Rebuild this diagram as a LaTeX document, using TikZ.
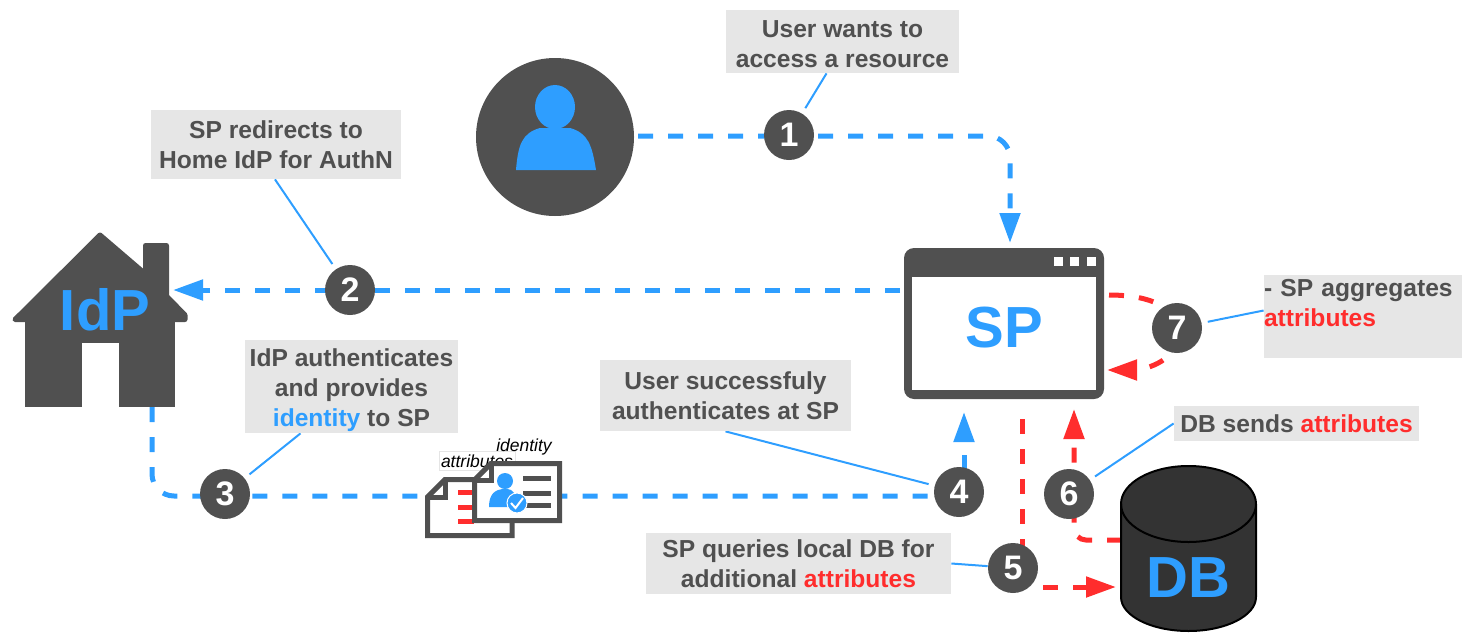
\documentclass[tikz,border=0pt]{standalone}
\usepackage{fontspec}
\setmainfont{Liberation Sans}
\usetikzlibrary{arrows.meta,backgrounds}

\definecolor{flowblue}{HTML}{2E9EFF}
\definecolor{flowred}{HTML}{FF2D2D}
\definecolor{darkgray}{HTML}{505050}
\definecolor{boxgray}{HTML}{E6E6E6}
\definecolor{dbgray}{HTML}{333333}

\newcommand{\attrs}{\textcolor{flowred}{attributes}}

\tikzset{
  flow/.style={line width=2.5pt, dash pattern=on 7.5pt off 7.5pt},
  blueflow/.style={flow, draw=flowblue},
  redflow/.style={flow, draw=flowred},
  tipped/.style={-{Triangle[length=15pt,width=10pt]}},
  callout/.style={draw=flowblue, line width=1pt, shorten >=3pt},
  stepnum/.style={circle, fill=darkgray, text=white, minimum size=25pt, inner sep=0pt,
    font=\fontsize{17}{18}\selectfont\bfseries},
  lbl/.style={fill=boxgray, text=darkgray, align=center, inner sep=0pt,
    font=\fontsize{12.3}{15}\selectfont\bfseries},
  biglbl/.style={text=flowblue, inner sep=0pt, font=\fontsize{29}{32}\selectfont\bfseries},
  smalllbl/.style={inner sep=0pt, font=\fontsize{8.75}{10}\selectfont\itshape},
}

\begin{document}
\begin{tikzpicture}[x=0.5pt, y=-0.5pt]

  \useasboundingbox (0, 0) rectangle (1462, 632);

  % Actors.
  \node [circle, fill=darkgray, minimum size=79pt, inner sep=0pt] (user) at (555, 137) {};
  \fill [flowblue] (555, 107) ellipse (20 and 22);
  \fill [flowblue] (516, 170) .. controls (518, 145) and (522, 133) .. (540, 128)
        -- (570, 128) .. controls (588, 133) and (592, 145) .. (596, 170) -- cycle;

  \node [fill=darkgray, rounded corners=5pt, minimum width=100pt, minimum height=75.5pt,
         inner sep=0pt] (sp) at (1004, 323.5) {};
  \node [fill=white, minimum width=92pt, minimum height=56.5pt, inner sep=0pt]
        (spscreen) at (1004, 333.5) {};
  \foreach \btnx in {1058, 1074.5, 1091}
    \fill [white] (\btnx-4.5, 257) rectangle (\btnx+4.5, 266);
  \node [biglbl] (splabel) at (1004, 327.5) {SP};

  % House.
  \filldraw [darkgray, line width=2.5pt, line join=round] (100, 235) -- (145.5, 274)
        -- (145.5, 245.5) -- (166.5, 245.5) -- (166.5, 296) -- (185, 315) -- (185, 319.5)
        -- (15, 319.5) -- cycle;
  \fill [darkgray] (25, 318) rectangle (175, 407);
  \fill [white] (82, 343) rectangle (119, 408);
  \node [biglbl] (idp) at (105, 309.5) {IdP};

  % Database.
  \fill [dbgray, draw=black, line width=1pt] (1121, 504) -- (1121, 597)
        arc [start angle=180, end angle=0, x radius=67.5, y radius=34]
        -- (1256, 504) arc [start angle=0, end angle=-180, x radius=67.5, y radius=38] -- cycle;
  \draw [black, line width=1pt] (1121, 504)
        arc [start angle=180, end angle=0, x radius=67.5, y radius=38];
  \node [biglbl] (db) at (1188, 578) {DB};

  % Free ends of the flows.
  \coordinate (userout) at (638, 136);
  \coordinate (bendone) at (1010, 136);
  \coordinate (sptop) at (1010, 243);
  \coordinate (spleft) at (900, 290);
  \coordinate (idpin) at (173, 290);
  \coordinate (idpout) at (152, 407);
  \coordinate (bendthree) at (152, 496);
  \coordinate (busend) at (959, 496);
  \coordinate (upstart) at (964, 470);
  \coordinate (spbottom) at (964, 412);
  \coordinate (spquery) at (1022, 419);
  \coordinate (queryend) at (1022, 560);
  \coordinate (querynext) at (1043, 587);
  \coordinate (dbin) at (1116, 587);
  \coordinate (dbout) at (1122, 540);
  \coordinate (bendsix) at (1074, 540);
  \coordinate (spreturn) at (1074, 409);
  \coordinate (selfout) at (1109, 295);
  \coordinate (selfmid) at (1178, 333);
  \coordinate (selfin) at (1107, 370);

  % Step numbers.
  \node [stepnum] (n1) at (789, 135) {1};
  \node [stepnum] (n2) at (350, 290) {2};
  \node [stepnum] (n3) at (225, 494) {3};
  \node [stepnum] (n4) at (959, 492) {4};
  \node [stepnum] (n5) at (1013, 568) {5};
  \node [stepnum] (n6) at (1069, 494) {6};
  \node [stepnum] (n7) at (1177, 328) {7};

  % Grey labels.
  \node [lbl, minimum width=116.5pt, minimum height=31.5pt] (lblone) at (842.5, 41.5)
        {\rule{0pt}{11pt}User wants to\\access a resource};
  \node [lbl, minimum width=125pt, minimum height=34.5pt] (lbltwo) at (276, 144.5)
        {SP redirects to\\Home IdP for AuthN};
  \node [lbl, minimum width=106.5pt, minimum height=46.5pt] (lblthree) at (351.5, 386.5)
        {\rule{0pt}{13pt}IdP authenticates\\and provides\\\textcolor{flowblue}{identity} to SP};
  \node [lbl, minimum width=125.5pt, minimum height=35.5pt] (lblfour) at (725.5, 395.5)
        {User successfuly\\authenticates at SP};
  \node [lbl, minimum width=152.5pt, minimum height=30.5pt] (lblfive) at (798.5, 563.5)
        {SP queries local DB for\\additional \attrs};
  \node [lbl, minimum width=122.5pt, minimum height=17.5pt] (lblsix) at (1296.5, 423.5)
        {DB sends \attrs};
  \node [lbl, text width=99pt, minimum height=41.5pt, align=left] (lblseven) at (1363, 316.5)
        {\rule{0pt}{10pt}- SP aggregates\\\attrs\\\mbox{}};

  % Documents handed over in step 3.
  \node [smalllbl, draw=black!10, line width=0.3pt, inner xsep=1pt, inner ysep=1.5pt]
        (attrlbl) at (477, 461) {attributes};
  \begin{scope}[darkgray, line width=2.5pt]
    \filldraw [fill=white] (445, 479.5) -- (512, 479.5) -- (512, 535.5) -- (427.5, 535.5)
          -- (427.5, 497) -- cycle;
    \draw (427.5, 497) -- (445, 497) -- (445, 479.5);
    \foreach \rowy in {492, 507, 521}
      \draw [flowred] (458, \rowy) -- (474, \rowy);
    \filldraw [fill=white] (491, 463.5) -- (559.5, 463.5) -- (559.5, 520.5) -- (474.5, 520.5)
          -- (474.5, 480) -- cycle;
    \draw (474.5, 480) -- (491, 480) -- (491, 463.5);
    \foreach \rowy in {478, 493, 505}
      \draw (523, \rowy) -- (551, \rowy);
  \end{scope}
  \fill [flowblue] (505, 481) circle [radius=8];
  \fill [flowblue] (489, 507) .. controls (489, 494) and (495, 489) .. (505, 489)
        .. controls (515, 489) and (516, 494) .. (517, 507) -- cycle;
  \filldraw [fill=flowblue, draw=white, line width=0.5pt] (517, 503) circle [radius=10];
  \draw [white, line width=1pt] (511, 503) -- (515.5, 508) -- (523, 498);
  \node [smalllbl] (identlbl) at (524, 447) {identity};

  \begin{scope}[on background layer]
    % Blue flows.
    \draw [blueflow, tipped, rounded corners=11pt] (userout) -- (bendone) -- (sptop);
    \draw [blueflow, tipped] (spleft) -- (idpin);
    \draw [blueflow, rounded corners=11pt] (idpout) -- (bendthree) -- (busend);
    \draw [blueflow, tipped] (upstart) -- (spbottom);

    % Red flows.
    \draw [redflow] (spquery) -- (queryend);
    \draw [redflow, tipped] (querynext) -- (dbin);
    \draw [redflow, tipped, rounded corners=6pt] (dbout) -- (bendsix) -- (spreturn);
    \draw [redflow, tipped] (selfout) to [out=0, in=90] (selfmid)
          to [out=-90, in=0] (selfin);

    % Lines from the labels to the numbers.
    \draw [callout] ([xshift=-8pt]lblone.south) -- (n1);
    \draw [callout] ([xshift=-0.5pt]lbltwo.south) -- (n2);
    \draw [callout] ([xshift=-25.5pt]lblthree.south) -- (n3);
    \draw [callout] (lblfour.south) -- (n4);
    \draw [callout, shorten >=0pt] (lblfive.east) -- (n5);
    \draw [callout] (lblsix.west) -- (n6);
    \draw [callout] ([yshift=3pt]lblseven.west) -- (n7);
  \end{scope}

\end{tikzpicture}
\end{document}
